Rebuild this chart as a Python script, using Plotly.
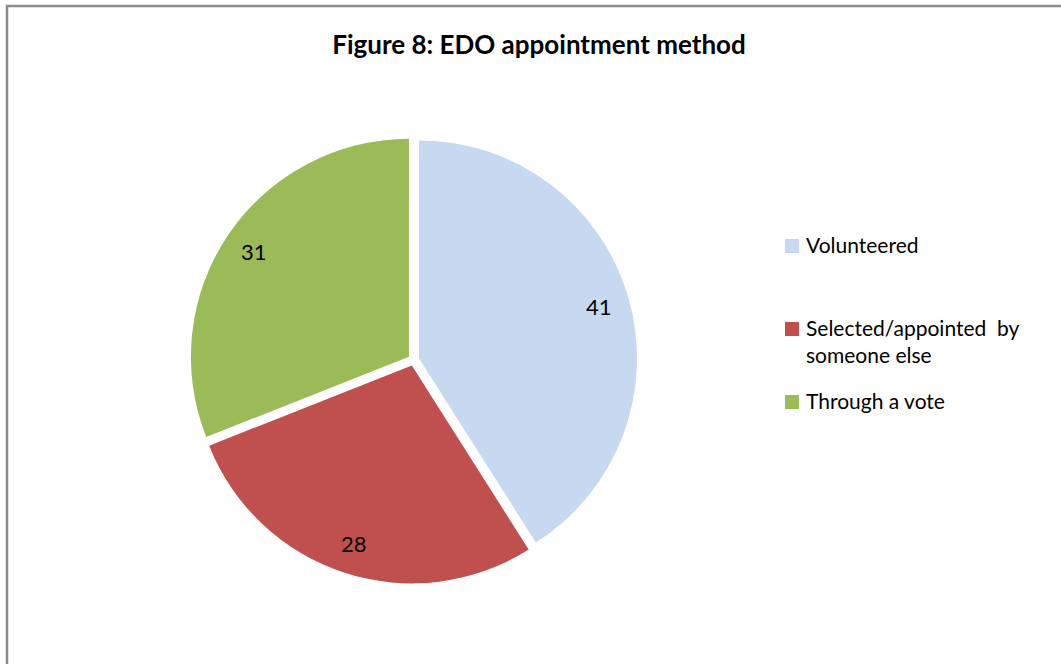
import math
import plotly.graph_objects as go

# Appointment method shares
categories = ["Volunteered", "Selected/appointed  by<br>someone else", "Through a vote"]
values = [41, 28, 31]
colors = ["#C6D9F1", "#C0504D", "#9BBB59"]

W, H = 1061, 664
FONT = "Lato, 'Open Sans', sans-serif"

# Pie geometry in pixels (centre and outer radius) -> paper domain
cx, cy = 413.6, 360.0
pull = 0.026
R = 218.0
half = R * (1 + pull)
dom_x = [(cx - half) / W, (cx + half) / W]
dom_y = [(H - cy - half) / H, (H - cy + half) / H]

fig = go.Figure(
    go.Pie(
        labels=categories,
        values=values,
        sort=False,
        direction="clockwise",
        rotation=0,
        pull=[pull] * len(values),
        marker=dict(colors=colors, line=dict(width=0)),
        textinfo="none",
        hoverinfo="label+value",
        domain=dict(x=dom_x, y=dom_y),
        showlegend=False,
    )
)

annotations = []

# Value labels placed along each slice's bisector
total = sum(values)
cum = 0
for v in values:
    mid = (cum + v / 2) / total * 2 * math.pi
    cum += v
    r = 0.86 * R + pull * R
    lx = cx + r * math.sin(mid)
    ly = cy - r * math.cos(mid)
    annotations.append(dict(
        x=lx / W, y=(H - ly) / H, xref="paper", yref="paper",
        text=str(v), showarrow=False,
        font=dict(family=FONT, size=22, color="#000000"),
        xanchor="center", yanchor="middle",
    ))

# Legend drawn as swatches + labels
legend_rows = [246, 329, 402]
shapes = []
for lab, col, yrow in zip(categories, colors, legend_rows):
    shapes.append(dict(
        type="rect", xref="paper", yref="paper",
        x0=785 / W, x1=799 / W,
        y0=(H - (yrow + 7)) / H,
        y1=(H - (yrow - 7)) / H,
        fillcolor=col, line=dict(width=0),
    ))
    annotations.append(dict(
        x=804 / W, y=(H - (yrow - 16)) / H, xref="paper", yref="paper",
        text=lab, showarrow=False, align="left",
        font=dict(family=FONT, size=21, color="#000000"),
        xanchor="left", yanchor="top",
    ))

# Chart-area frame (top and left edges visible)
shapes.append(dict(
    type="rect", xref="paper", yref="paper",
    x0=7 / W, y0=-0.1, x1=1.1, y1=(H - 6) / H,
    line=dict(color="#8C8C8C", width=2.5), fillcolor="rgba(0,0,0,0)",
))

fig.update_layout(
    width=W, height=H,
    margin=dict(l=0, r=0, t=0, b=0),
    paper_bgcolor="#FFFFFF",
    plot_bgcolor="#FFFFFF",
    title=dict(
        text="<b>Figure 8: EDO appointment method</b>",
        x=539 / W, xanchor="center",
        y=(H - 45) / H, yanchor="middle",
        font=dict(family=FONT, size=26, color="#000000"),
    ),
    annotations=annotations,
    shapes=shapes,
)

fig.write_html("out.html")
